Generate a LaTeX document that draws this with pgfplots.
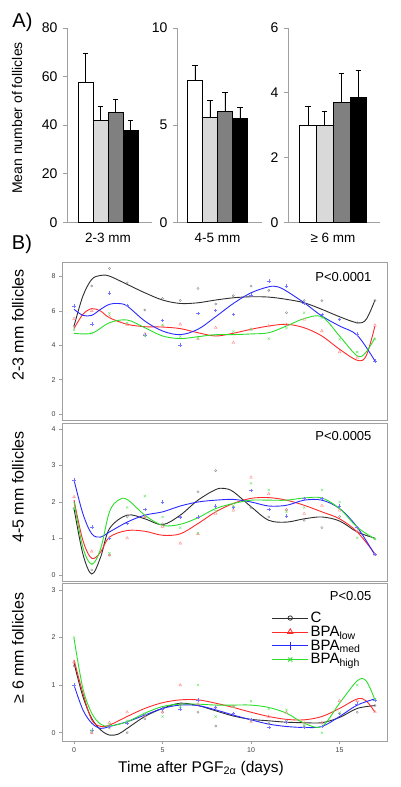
\documentclass[border=0pt]{standalone}
\usepackage{pgfplots}
\pgfplotsset{compat=1.18}
\usepackage{fontspec}
\setmainfont{Liberation Sans}
\definecolor{cC}{HTML}{2E2E2E}
\definecolor{cL}{HTML}{FF2A2A}
\definecolor{cM}{HTML}{2A2AFF}
\definecolor{cH}{HTML}{2ADE2A}
\definecolor{axgray}{HTML}{A0A0A0}
\definecolor{barg1}{HTML}{D9D9D9}
\definecolor{barg2}{HTML}{808080}
\pgfplotsset{
 barA/.style={scale only axis, height=194.3pt, anchor=south west, ymin=0,
  axis x line*=bottom, axis y line*=left,
  axis line style={axgray, line width=0.8pt, -},
  xtick=\empty, y tick style={axgray, line width=0.8pt},
  tick align=outside, major tick length=4pt,
  yticklabel style={font=\fontsize{14}{14}\selectfont, xshift=-2pt},
  /pgf/number format/assume math mode=true,
  ybar, bar width=1, bar shift=0, clip=false},
 eb/.style={error bars/.cd, y dir=plus, y explicit, error mark=-,
  error bar style={black, line width=0.8pt},
  error mark options={rotate=90, black, mark size=2.6pt, line width=0.8pt}},
 lineB/.style={scale only axis, width=325pt, height=158pt, anchor=south west,
  xmin=-0.68, xmax=17.68,
  axis line style={axgray, line width=0.8pt},
  tick style={axgray, line width=0.5pt}, tick align=outside, major tick length=3pt,
  ticklabel style={font=\fontsize{7}{7}\selectfont, text=black!75},
  /pgf/number format/assume math mode=true,
  ytick pos=left, xtick pos=bottom},
 ptC/.style={only marks, mark=o, mark size=1.1pt, black!45, forget plot},
 ptL/.style={only marks, mark=triangle, mark size=1.6pt, cL!55, forget plot},
 ptM/.style={only marks, mark=+, mark size=1.8pt, cM!65, forget plot},
 ptH/.style={only marks, mark=x, mark size=1.6pt, cH!70, forget plot},
 cvC/.style={cC, line width=0.9pt, smooth, tension=0.55, forget plot},
 cvL/.style={cL, line width=0.9pt, smooth, tension=0.55, forget plot},
 cvM/.style={cM, line width=0.9pt, smooth, tension=0.55, forget plot},
 cvH/.style={cH, line width=0.9pt, smooth, tension=0.55, forget plot},
}
\begin{document}
\begin{tikzpicture}
\path[use as bounding box] (0pt,0pt) rectangle (400pt,787pt);
% ---------- Panel A ----------
\node[font=\fontsize{20}{20}\selectfont] at (22.5pt,764.5pt) {A)};
\node[rotate=90, font=\fontsize{14}{14}\selectfont] at (17pt,669pt) {Mean number of follicles};
\begin{axis}[barA, at={(67pt,564.7pt)}, width=85pt, xmin=-0.23, xmax=5.43, ymax=80, ytick={0,20,40,60,80}]
\addplot[fill=white, draw=black, eb] coordinates {(1,57.5) +- (0,12.0)};
\addplot[fill=barg1, draw=black, eb] coordinates {(2,42.0) +- (0,5.6)};
\addplot[fill=barg2, draw=black, eb] coordinates {(3,45.3) +- (0,5.1)};
\addplot[fill=black, draw=black, eb] coordinates {(4,38.0) +- (0,4.1)};
\end{axis}
\begin{axis}[barA, at={(177pt,564.7pt)}, width=85pt, xmin=-0.2, xmax=5.47, ymax=10, ytick={0,5,10}]
\addplot[fill=white, draw=black, eb] coordinates {(1,7.31) +- (0,0.75)};
\addplot[fill=barg1, draw=black, eb] coordinates {(2,5.43) +- (0,0.86)};
\addplot[fill=barg2, draw=black, eb] coordinates {(3,5.71) +- (0,0.96)};
\addplot[fill=black, draw=black, eb] coordinates {(4,5.37) +- (0,0.53)};
\end{axis}
\begin{axis}[barA, at={(288pt,564.7pt)}, width=92pt, xmin=-0.2, xmax=5.31, ymax=6, ytick={0,2,4,6}]
\addplot[fill=white, draw=black, eb] coordinates {(1,3.0) +- (0,0.59)};
\addplot[fill=barg1, draw=black, eb] coordinates {(2,3.0) +- (0,0.42)};
\addplot[fill=barg2, draw=black, eb] coordinates {(3,3.71) +- (0,0.88)};
\addplot[fill=black, draw=black, eb] coordinates {(4,3.85) +- (0,0.83)};
\end{axis}
\node[font=\fontsize{13.5}{13.5}\selectfont] at (108pt,549pt) {2-3 mm};
\node[font=\fontsize{13.5}{13.5}\selectfont] at (217.5pt,549pt) {4-5 mm};
\node[font=\fontsize{13.5}{13.5}\selectfont] at (333pt,549pt) {≥ 6 mm};
% ---------- Panel B ----------
\node[font=\fontsize{20}{20}\selectfont] at (22pt,543pt) {B)};
\node[rotate=90, font=\fontsize{16}{16}\selectfont] at (18pt,462pt) {2-3 mm follicles};
\node[rotate=90, font=\fontsize{16}{16}\selectfont] at (18pt,300pt) {4-5 mm follicles};
\node[rotate=90, font=\fontsize{16}{16}\selectfont] at (18pt,139pt) {≥ 6 mm follicles};
% top
\begin{axis}[lineB, at={(62pt,367pt)}, ymin=-0.34, ymax=8.84, ytick={0,2,4,6,8}, xtick=\empty]
\addplot[ptC] coordinates {(0,5.1)(1,7.44)(2,8.46)(3,7.63)(4,6.05)(5,6.72)(6,6.6)(7,7.3)(8,6.4)(9,6.88)(10,7.44)(11,7.19)(12,5.89)(13,6.6)(14,6.6)(15,5.5)(16,5.31)(17,6.6)};
\addplot[ptL] coordinates {(0,5.55)(1,6.0)(2,5.66)(3,5.18)(4,4.66)(5,5.1)(6,5.22)(7,4.39)(8,5.02)(9,4.15)(10,4.93)(11,5.12)(12,5.2)(13,5.5)(14,4.83)(15,3.61)(16,3.28)(17,5.16)};
\addplot[ptM] coordinates {(0,6.28)(1,5.22)(2,7.05)(3,6.32)(4,4.6)(5,5.45)(6,4.02)(7,5.84)(8,6.03)(9,5.78)(10,6.92)(11,7.73)(12,7.44)(13,6.43)(14,5.8)(15,5.5)(16,4.64)(17,3.09)};
\addplot[ptH] coordinates {(0,4.9)(1,4.7)(2,5.85)(3,5.3)(4,4.54)(5,5.18)(6,4.5)(7,4.4)(8,4.6)(9,4.8)(10,4.93)(11,4.39)(12,5.0)(13,5.89)(14,5.6)(15,4.35)(16,3.61)(17,4.35)};
\addplot[cvC] coordinates {(0,5.12)(0.5,6.86)(1,7.83)(1.5,8.06)(2,8.02)(3,7.54)(4,7.05)(5,6.63)(6,6.43)(7,6.47)(8,6.63)(9,6.76)(10,6.82)(11,6.8)(12,6.67)(13,6.47)(14,6.09)(15,5.66)(16,5.31)(16.5,5.5)(17,6.63)};
\addplot[cvL] coordinates {(0,4.97)(0.5,5.8)(1,6.13)(1.5,5.99)(2,5.6)(3,5.22)(4,5.08)(5,5.06)(6,4.97)(7,4.73)(8,4.54)(9,4.7)(10,4.93)(11,5.12)(12,5.22)(13,5.02)(14,4.54)(15,3.77)(16,3.13)(16.5,3.38)(17,5.12)};
\addplot[cvM] coordinates {(0,6.09)(0.5,5.74)(1,5.74)(1.5,6.09)(2,6.38)(2.5,6.43)(3,6.28)(4,5.41)(5,4.83)(6,4.62)(7,4.93)(8,5.66)(9,6.43)(10,7.05)(11,7.4)(11.5,7.4)(12,7.15)(13,6.47)(14,5.7)(15,5.12)(16,4.58)(17,3.09)};
\addplot[cvH] coordinates {(0,4.7)(1,4.7)(2,5.31)(3,5.47)(4,5.02)(5,4.54)(6,4.39)(7,4.5)(8,4.62)(9,4.62)(10,4.66)(11,4.73)(12,5.12)(13,5.55)(14,5.66)(15,4.54)(16,3.38)(16.5,3.61)(17,4.44)};
\node[anchor=east, font=\fontsize{13}{13}\selectfont] at (rel axis cs:0.963,0.905) {P<0.0001};
\end{axis}
% middle
\begin{axis}[lineB, at={(62pt,206pt)}, ymin=-0.16, ymax=4.16, ytick={0,1,2,3,4}, xtick=\empty]
\addplot[ptC] coordinates {(0,1.82)(1,0.14)(2,0.55)(3,1.6)(4,1.59)(5,1.4)(6,1.6)(7,2.28)(8,2.86)(9,1.85)(10,1.85)(11,1.59)(12,1.79)(13,1.5)(14,1.3)(15,1.6)(16,1.3)(17,0.99)};
\addplot[ptL] coordinates {(0,2.14)(1,0.65)(2,0.55)(3,1.01)(4,1.59)(5,1.33)(6,0.87)(7,1.13)(8,1.68)(9,1.77)(10,2.67)(11,2.22)(12,1.79)(13,1.68)(14,1.9)(15,1.77)(16,1.2)(17,0.56)};
\addplot[ptM] coordinates {(0,2.6)(1,1.31)(2,1.0)(3,1.41)(4,1.8)(5,2.0)(6,1.59)(7,1.59)(8,1.89)(9,1.85)(10,2.31)(11,1.8)(12,1.61)(13,2.1)(14,2.1)(15,1.89)(16,1.3)(17,0.56)};
\addplot[ptH] coordinates {(0,1.82)(1,0.3)(2,0.6)(3,1.85)(4,2.16)(5,1.59)(6,1.3)(7,1.15)(8,1.75)(9,1.9)(10,2.51)(11,2.33)(12,1.73)(13,1.85)(14,2.33)(15,2.0)(16,1.02)(17,0.99)};
\addplot[cvC] coordinates {(0,1.82)(0.5,0.58)(1,0.03)(1.5,0.49)(2,1.27)(3,1.64)(4,1.54)(5,1.38)(6,1.64)(7,2.05)(8,2.34)(8.5,2.37)(9,2.28)(10,1.87)(11,1.5)(12,1.45)(13,1.54)(14,1.59)(15,1.48)(16,1.18)(17,1.01)};
\addplot[cvL] coordinates {(0,2.05)(0.5,0.95)(1,0.46)(1.5,0.63)(2,1.04)(3,1.22)(4,1.2)(5,1.09)(6,1.13)(7,1.41)(8,1.73)(9,1.96)(10,2.1)(11,2.12)(12,2.05)(13,1.91)(14,1.73)(15,1.54)(16,1.18)(17,0.58)};
\addplot[cvM] coordinates {(0,2.6)(0.5,1.68)(1,1.13)(1.5,1.04)(2,1.18)(3,1.45)(4,1.64)(5,1.73)(6,1.89)(7,2.0)(8,2.05)(9,2.07)(10,2.0)(11,1.89)(12,1.91)(13,2.05)(14,2.05)(15,1.82)(16,1.31)(17,0.55)};
\addplot[cvH] coordinates {(0,2.0)(0.5,0.76)(1,0.3)(1.5,0.72)(2,1.73)(2.5,2.05)(3,2.07)(4,1.64)(5,1.36)(6,1.39)(7,1.57)(8,1.82)(9,1.96)(10,2.05)(11,2.05)(12,2.05)(13,2.11)(14,2.11)(15,1.82)(16,1.31)(17,0.99)};
\node[anchor=east, font=\fontsize{13}{13}\selectfont] at (rel axis cs:0.963,0.918) {P<0.0005};
\end{axis}
% bottom
\begin{axis}[lineB, at={(62pt,46pt)}, ymin=-0.175, ymax=3.147, ytick={0,1,2,3}, xtick={0,5,10,15},
  legend entries={C, BPA\textsubscript{low}, BPA\textsubscript{med}, BPA\textsubscript{high}},
  legend cell align=left,
  legend style={at={(0.645,0.83)}, anchor=north west, draw=none, fill=none,
    font=\fontsize{15}{15}\selectfont, row sep=-2pt, inner sep=0pt},
  legend image code/.code={\draw[mark repeat=2, mark phase=2, #1] plot coordinates {(0pt,0pt)(18pt,0pt)(36pt,0pt)};}]
\addlegendimage{cC, line width=0.8pt, mark=o, mark size=2.2pt}
\addlegendimage{cL, line width=0.8pt, mark=triangle, mark size=3.2pt}
\addlegendimage{cM, line width=0.8pt, mark=|, mark size=4pt}
\addlegendimage{cH, line width=0.8pt, mark=x, mark size=3pt}
\addplot[ptC] coordinates {(0,1.4)(1,0.0)(2,0.1)(3,0.0)(4,0.29)(5,0.43)(6,0.6)(7,0.43)(8,0.14)(9,0.55)(10,0.25)(11,0.2)(12,0.25)(13,0.14)(14,0.2)(15,0.4)(16,0.43)(17,0.57)};
\addplot[ptL] coordinates {(0,1.49)(1,0.0)(2,0.21)(3,0.43)(4,0.35)(5,0.43)(6,1.0)(7,0.6)(8,0.53)(9,0.55)(10,0.23)(11,0.34)(12,0.42)(13,0.2)(14,0.21)(15,0.67)(16,0.67)(17,0.44)};
\addplot[ptM] coordinates {(0,1.0)(1,0.05)(2,0.13)(3,0.2)(4,0.38)(5,0.5)(6,0.5)(7,0.69)(8,0.53)(9,0.4)(10,0.28)(11,0.11)(12,0.21)(13,0.11)(14,0.13)(15,0.4)(16,0.6)(17,0.69)};
\addplot[ptH] coordinates {(0,2.0)(1,0.05)(2,0.18)(3,0.25)(4,0.4)(5,0.34)(6,0.55)(7,1.0)(8,0.34)(9,0.55)(10,0.66)(11,0.5)(12,0.48)(13,0.15)(14,0.0)(15,0.42)(16,1.0)(17,0.7)};
\addplot[cvC] coordinates {(0,1.46)(0.5,0.76)(1,0.3)(1.5,0.06)(2,-0.05)(2.5,-0.03)(3,0.09)(4,0.34)(5,0.51)(6,0.62)(7,0.57)(8,0.46)(9,0.35)(10,0.28)(11,0.25)(12,0.22)(13,0.21)(14,0.21)(15,0.32)(16,0.51)(17,0.57)};
\addplot[cvL] coordinates {(0,1.53)(0.5,0.83)(1,0.27)(1.5,0.13)(2,0.16)(3,0.34)(4,0.51)(5,0.63)(6,0.69)(7,0.69)(8,0.62)(9,0.53)(10,0.43)(11,0.34)(12,0.28)(13,0.27)(14,0.34)(15,0.51)(16,0.71)(16.5,0.67)(17,0.43)};
\addplot[cvM] coordinates {(0,1.0)(0.5,0.48)(1,0.2)(1.5,0.09)(2,0.13)(3,0.23)(4,0.37)(5,0.51)(6,0.58)(7,0.57)(8,0.48)(9,0.37)(10,0.27)(11,0.18)(12,0.13)(13,0.11)(14,0.13)(15,0.34)(16,0.58)(17,0.71)};
\addplot[cvH] coordinates {(0,1.98)(0.5,0.93)(1,0.41)(1.5,0.18)(2,0.14)(3,0.23)(4,0.41)(5,0.55)(6,0.6)(7,0.6)(8,0.58)(9,0.58)(10,0.58)(11,0.53)(12,0.41)(13,0.2)(14,0.13)(15,0.62)(16,1.09)(16.5,1.09)(17,0.69)};
\node[anchor=east, font=\fontsize{13}{13}\selectfont] at (rel axis cs:0.963,0.918) {P<0.05};
\end{axis}
\node[font=\fontsize{15.5}{15.5}\selectfont] at (201pt,19pt) {Time after PGF\textsubscript{2α} (days)};
\end{tikzpicture}
\end{document}
